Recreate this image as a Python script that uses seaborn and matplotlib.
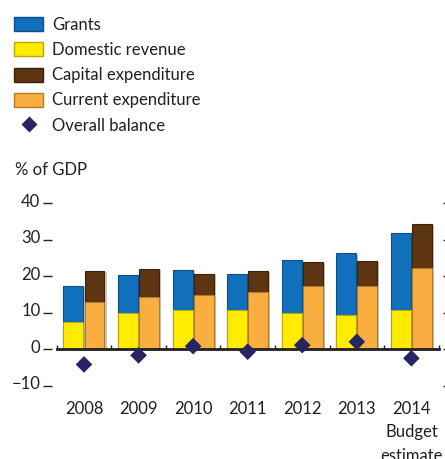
import matplotlib
matplotlib.use("Agg")
import matplotlib.pyplot as plt
import matplotlib.transforms as mtransforms
import matplotlib.patheffects as pe
from matplotlib.patches import Patch
from matplotlib.lines import Line2D
import seaborn as sns
import pandas as pd

years = ["2008", "2009", "2010", "2011", "2012", "2013", "2014\nBudget\nestimate"]
domestic_revenue = [7.5, 10.0, 10.8, 10.6, 10.0, 9.4, 10.6]
grants = [9.8, 10.2, 11.0, 9.9, 14.3, 16.8, 21.1]
current_expenditure = [12.8, 14.2, 14.9, 15.6, 17.2, 17.2, 22.3]
capital_expenditure = [8.7, 7.7, 5.8, 5.8, 6.6, 7.0, 11.9]
overall_balance = [-4.2, -1.7, 0.8, -0.7, 1.1, 2.0, -2.5]

C_GRANTS = "#1170BB"
C_DOM = "#FFEC00"
C_CAP = "#5E3512"
C_CUR = "#FBAE40"
C_BAL = "#262462"
TXT = "#231F20"
FS = 12

sns.set_style("white")
plt.rcParams["font.family"] = ["Lato", "DejaVu Sans"]

rows = []
for i, y in enumerate(years):
    rows.append({"year": y, "side": "Revenue",
                 "total": domestic_revenue[i] + grants[i], "lower": domestic_revenue[i]})
    rows.append({"year": y, "side": "Expenditure",
                 "total": current_expenditure[i] + capital_expenditure[i], "lower": current_expenditure[i]})
df = pd.DataFrame(rows)
bal = pd.DataFrame({"year": years, "balance": overall_balance})

fig = plt.figure(figsize=(4.45, 4.59), dpi=100)
ax = fig.add_axes([0.1274, 0.136, 0.8584, 0.4374])

shadow = [pe.SimplePatchShadow(offset=(1.5, -0.8), shadow_rgbFace="#C8C8C8", alpha=1.0), pe.Normal()]

sns.barplot(data=df, x="year", y="total", hue="side", order=years,
            hue_order=["Revenue", "Expenditure"],
            palette={"Revenue": C_GRANTS, "Expenditure": C_CAP},
            width=0.77, gap=0.05, dodge=True, legend=False, ax=ax,
            errorbar=None, saturation=1, zorder=2)
n_top = len(ax.patches)
sns.barplot(data=df, x="year", y="lower", hue="side", order=years,
            hue_order=["Revenue", "Expenditure"],
            palette={"Revenue": C_DOM, "Expenditure": C_CUR},
            width=0.77, gap=0.05, dodge=True, legend=False, ax=ax,
            errorbar=None, saturation=1, zorder=3)

edge_map = {C_GRANTS: "#0B4F86", C_CAP: "#3E220A", C_DOM: "#B8A800", C_CUR: "#B07A2A"}
for i, p in enumerate(ax.patches):
    fc = matplotlib.colors.to_hex(p.get_facecolor()).upper()
    for k, v in edge_map.items():
        if fc == k.upper():
            p.set_edgecolor(v)
    p.set_linewidth(0.8)
    if i < n_top:
        p.set_path_effects(shadow)

sns.scatterplot(data=bal, x="year", y="balance", marker="D", s=72,
                color=C_BAL, edgecolor="none", ax=ax, zorder=5)

ax.set_xlim(-0.5, len(years) - 0.5)
ax.set_ylim(-13, 42)
ax.set_xlabel("")
ax.set_ylabel("")

ax.spines["top"].set_visible(False)
ax.spines["left"].set_visible(False)
ax.spines["right"].set_visible(False)
ax.spines["bottom"].set_position(("data", 0))
ax.spines["bottom"].set_color(TXT)
ax.spines["bottom"].set_linewidth(2)
ax.spines["bottom"].set_zorder(4)
ax.spines["left"].set_position(("outward", 3.4))
ax.spines["right"].set_position(("outward", 3))

ax.set_yticks([-10, 0, 10, 20, 30, 40])
ax.set_yticklabels(["\u221210", "0", "10", "20", "30", "40"])
ax.tick_params(axis="y", left=True, right=True, direction="out", length=6.5, width=1,
               color=TXT, labelsize=FS, labelcolor=TXT, pad=1.8)
for t in ax.yaxis.get_major_ticks():
    t.tick2line.set_markersize(1.5)
ax.set_xticks(range(len(years)))
ax.set_xticklabels(years, linespacing=1.55)
ax.tick_params(axis="x", which="major", bottom=True, length=0, labelsize=FS,
               labelcolor=TXT, pad=37.5)
ax.set_xticks([i - 0.5 for i in range(len(years) + 1)], minor=True)
ax.tick_params(axis="x", which="minor", bottom=True, direction="in", length=3,
               width=1, color=TXT)

off = mtransforms.ScaledTranslation(0, 3 / 100, fig.dpi_scale_trans)
for lab in ax.get_yticklabels():
    lab.set_transform(lab.get_transform() + off)

fig.text(15 / 445, 1 - 170 / 459, "% of GDP", fontsize=FS, color=TXT, va="center", ha="left")

handles = [
    Patch(facecolor=C_GRANTS, edgecolor="#0B4F86", label="Grants"),
    Patch(facecolor=C_DOM, edgecolor="#B8A800", label="Domestic revenue"),
    Patch(facecolor=C_CAP, edgecolor="#3E220A", label="Capital expenditure"),
    Patch(facecolor=C_CUR, edgecolor="#B07A2A", label="Current expenditure"),
    Line2D([0], [0], marker="D", color="none", markerfacecolor=C_BAL,
           markeredgecolor="none", markersize=8, label="Overall balance"),
]
leg = fig.legend(handles=handles, loc="upper left", bbox_to_anchor=(14 / 445, 1 - 17 / 459),
                 frameon=False, fontsize=FS, handlelength=1.75, handleheight=0.92,
                 handletextpad=0.55, labelspacing=0.55, borderpad=0, borderaxespad=0)
for t in leg.get_texts():
    t.set_color(TXT)

fig.savefig("out.png", dpi=100)
